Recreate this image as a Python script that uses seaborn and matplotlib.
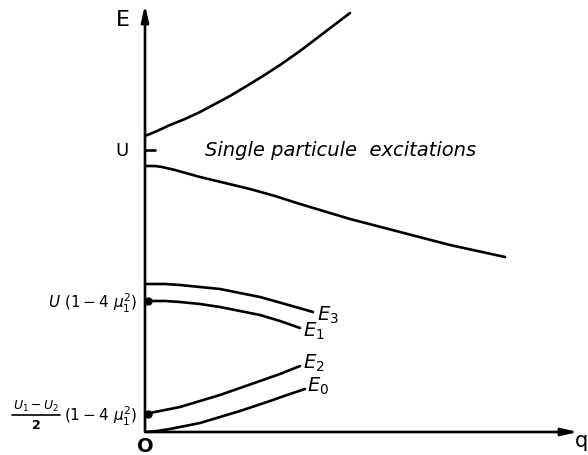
import numpy as np
import pandas as pd
import seaborn as sns
import matplotlib.pyplot as plt

# curves (q, E in arbitrary units)
upper_q = [0, 12, 25, 40, 55, 70, 85, 100, 118, 135, 155, 180, 205]
upper_E = [296, 301, 307, 313, 320, 328, 336, 345, 356, 367, 381, 400, 419]
lower_q = [0, 10, 17, 30, 55, 80, 105, 130, 155, 205, 255, 305, 360]
lower_E = [266, 266, 265, 262, 255, 249, 243, 236, 228, 213, 200, 187, 175]
e3_q = [0, 20, 35, 55, 75, 95, 115, 140, 168]
e3_E = [148, 148, 147, 145, 143, 139, 135, 128, 120]
e1_q = [0, 20, 35, 55, 75, 95, 115, 135, 155]
e1_E = [131, 131, 130, 128, 125, 121, 117, 111, 104]
e2_q = [0, 15, 35, 55, 75, 95, 115, 135, 155]
e2_E = [18, 21, 25, 31, 37, 44, 51, 58, 66]
e0_q = [0, 12, 25, 40, 55, 75, 95, 110, 125, 142, 160]
e0_E = [0, 1, 3, 6, 9, 15, 21, 26, 31, 37, 43]
U_level = 282

sns.set_theme(style="white")
plt.rcParams['font.family'] = ['DejaVu Sans']
plt.rcParams['mathtext.fontset'] = 'dejavusans'
plt.rcParams['text.color'] = 'black'

fig = plt.figure(figsize=(5.88, 4.56), dpi=100)
ax = fig.add_axes([0, 0, 1, 1])
ax.set_xlim(-145, 443)
ax.set_ylim(-23, 433)
ax.axis("off")

curves = [(upper_q, upper_E), (lower_q, lower_E), (e3_q, e3_E),
          (e1_q, e1_E), (e2_q, e2_E), (e0_q, e0_E)]
for qq, ee in curves:
    df = pd.DataFrame({"q": qq, "E": ee})
    sns.lineplot(data=df, x="q", y="E", ax=ax, color="black", lw=1.9, sort=False)

# axes with arrows
ax.annotate("", xy=(0, 430), xytext=(0, -2),
            arrowprops=dict(arrowstyle="-|>,head_width=0.18,head_length=0.8", color="black", lw=1.9))
ax.annotate("", xy=(436, 0), xytext=(-1, 0),
            arrowprops=dict(arrowstyle="-|>,head_width=0.18,head_length=0.8", color="black", lw=1.9))
ax.plot([0, 10], [U_level, U_level], color="black", lw=1.9)

# dots at q=0
ax.plot([3, 3], [e1_E[0], e2_E[0]], "o", color="black", ms=5)

ax.text(-22, 413, "E", fontsize=16, ha="center", va="center")
ax.text(-23, U_level, "U", fontsize=13, ha="center", va="center")
ax.text(0, -14, "O", fontsize=14, ha="center", va="center", fontweight="bold")
ax.text(436, -8, "q", fontsize=15, ha="center", va="center")
ax.text(60, U_level, "Single particule  excitations", fontsize=14,
        style="italic", ha="left", va="center")

ax.text(172, 118, "$E_3$", fontsize=14, ha="left", va="center")
ax.text(158, 102, "$E_1$", fontsize=14, ha="left", va="center")
ax.text(158, 70, "$E_2$", fontsize=14, ha="left", va="center")
ax.text(162, 47, "$E_0$", fontsize=14, ha="left", va="center")

ax.text(-8, 130, r"$U\ (1-4\ \mu_1^2)$", fontsize=11, ha="right", va="center")

# fraction label (U1-U2)/2 (1-4 mu1^2)
ax.text(-109, 27, r"$U_1-U_2$", fontsize=9, ha="center", va="center")
ax.plot([-133, -85], [17, 17], color="black", lw=1.2)
ax.text(-109, 7, "2", fontsize=9, ha="center", va="center", fontweight="bold")
ax.text(-8, 17, r"$(1-4\ \mu_1^2)$", fontsize=11, ha="right", va="center")

fig.savefig("out.png", dpi=100)
